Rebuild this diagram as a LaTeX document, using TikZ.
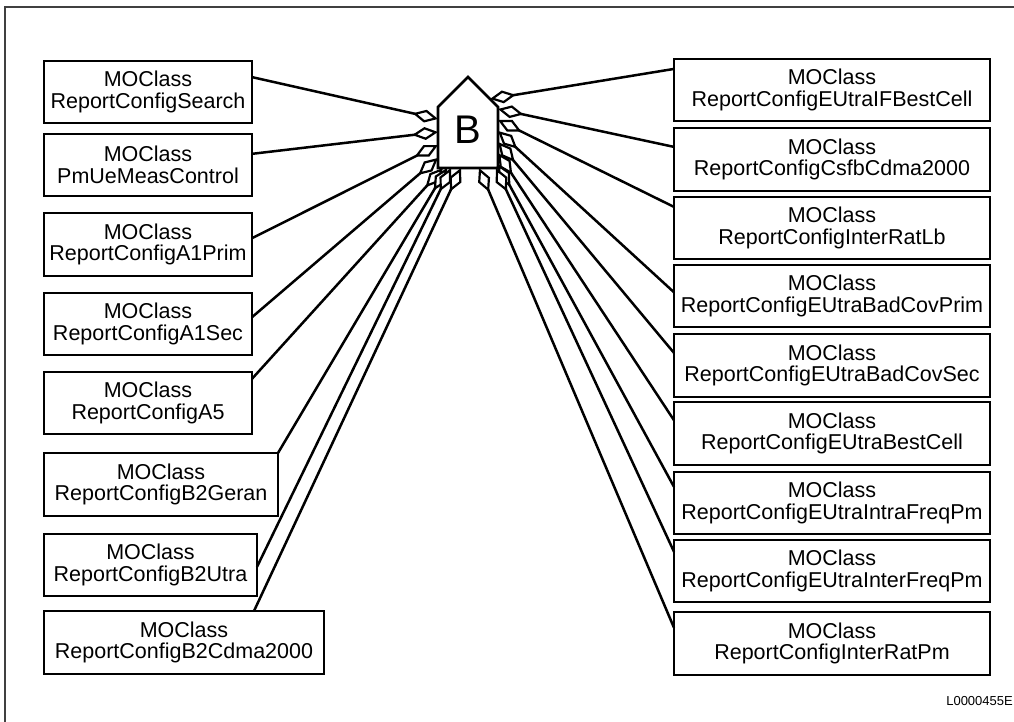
\documentclass[tikz,border=0pt]{standalone}
\usepackage{fontspec}
\setmainfont{Liberation Sans}
\usetikzlibrary{arrows.meta,calc}
\tikzset{
  mobox/.style={draw, line width=2.6pt, inner sep=0pt, outer sep=0pt, align=center,
    font=\fontsize{21.5}{21.5}\selectfont},
  agg/.style={line width=2.5pt, -{Diamond[fill=white, length=26pt, width=13pt, line width=2.2pt]}},
  frame/.style={line width=1.5pt, draw=black!75}
}
\begin{document}
\begin{tikzpicture}[x=1pt, y=-1pt]
\useasboundingbox (0,0) rectangle (1014,722);
\draw[frame] (5,722) -- (5,7) -- (1014,7);

% left boxes
\node[mobox, minimum width=208pt, minimum height=62pt] (s1) at (148,92) {MOClass\\ReportConfigSearch};
\node[mobox, minimum width=208pt, minimum height=62pt] (s2) at (148,165) {MOClass\\PmUeMeasControl};
\node[mobox, minimum width=208pt, minimum height=63pt] (s3) at (148,244.5) {MOClass\\ReportConfigA1Prim};
\node[mobox, minimum width=208pt, minimum height=62pt] (s4) at (148,324) {MOClass\\ReportConfigA1Sec};
\node[mobox, minimum width=208pt, minimum height=62pt] (s5) at (148,403) {MOClass\\ReportConfigA5};
\node[mobox, minimum width=234pt, minimum height=63pt] (s6) at (161,484.5) {MOClass\\ReportConfigB2Geran};
\node[mobox, minimum width=213pt, minimum height=62pt] (s7) at (150.5,565) {MOClass\\ReportConfigB2Utra};
\node[mobox, minimum width=280pt, minimum height=63pt] (s8) at (184,642.5) {MOClass\\ReportConfigB2Cdma2000};

% right boxes
\node[mobox, minimum width=316pt, minimum height=62pt] (r1) at (832,90) {MOClass\\ReportConfigEUtraIFBestCell};
\node[mobox, minimum width=316pt, minimum height=63pt] (r2) at (832,159.5) {MOClass\\ReportConfigCsfbCdma2000};
\node[mobox, minimum width=316pt, minimum height=62pt] (r3) at (832,228) {MOClass\\ReportConfigInterRatLb};
\node[mobox, minimum width=316pt, minimum height=62pt] (r4) at (832,296) {MOClass\\ReportConfigEUtraBadCovPrim};
\node[mobox, minimum width=316pt, minimum height=63pt] (r5) at (832,365.5) {MOClass\\ReportConfigEUtraBadCovSec};
\node[mobox, minimum width=316pt, minimum height=63pt] (r6) at (832,433.5) {MOClass\\ReportConfigEUtraBestCell};
\node[mobox, minimum width=316pt, minimum height=62pt] (r7) at (832,503) {MOClass\\ReportConfigEUtraIntraFreqPm};
\node[mobox, minimum width=316pt, minimum height=62pt] (r8) at (832,571) {MOClass\\ReportConfigEUtraInterFreqPm};
\node[mobox, minimum width=316pt, minimum height=63pt] (r9) at (832,643.5) {MOClass\\ReportConfigInterRatPm};

% house B
\coordinate (hnw) at (438,107);
\coordinate (hap) at (468,77);
\coordinate (hne) at (498,107);
\coordinate (hse) at (498,168);
\coordinate (hsw) at (438,168);
\draw[line width=2.6pt, fill=white, line join=miter] (hnw) -- (hap) -- (hne) -- (hse) -- (hsw) -- cycle;
\node[font=\fontsize{40}{40}\selectfont, inner sep=0pt] (B) at (468,130) {B};

% attach points on B
\coordinate (hL1) at (438,119);
\coordinate (hL2) at (438,132);
\coordinate (hL3) at (438,145);
\coordinate (hL4) at (438,158);
\coordinate (hB5) at (443,168);
\coordinate (hB6) at (447,168);
\coordinate (hB7) at (451,168);
\coordinate (hB8) at (461,168);
\coordinate (hR1) at (490,99);
\coordinate (hR2) at (498,109);
\coordinate (hR3) at (498,120);
\coordinate (hR4) at (498,131);
\coordinate (hR5) at (498,142);
\coordinate (hR6) at (498,153);
\coordinate (hR7) at (498,164);
\coordinate (hR8) at (496,168);
\coordinate (hR9) at (479,168);

% left connectors
\draw[agg] ($(s1.north east)!0.26!(s1.south east)$) -- (hL1);
\draw[agg] ($(s2.north east)!0.32!(s2.south east)$) -- (hL2);
\draw[agg] ($(s3.north east)!0.40!(s3.south east)$) -- (hL3);
\draw[agg] ($(s4.north east)!0.39!(s4.south east)$) -- (hL4);
\draw[agg] ($(s5.north east)!0.11!(s5.south east)$) -- (hB5);
\draw[agg] (s6.north east) -- (hB6);
\draw[agg] ($(s7.north east)!0.53!(s7.south east)$) -- (hB7);
\draw[agg] ($(s8.north west)!0.75!(s8.north east)$) -- (hB8);

% right connectors
\draw[agg] ($(r1.north west)!0.16!(r1.south west)$) -- (hR1);
\draw[agg] ($(r2.north west)!0.30!(r2.south west)$) -- (hR2);
\draw[agg] ($(r3.north west)!0.16!(r3.south west)$) -- (hR3);
\draw[agg] ($(r4.north west)!0.44!(r4.south west)$) -- (hR4);
\draw[agg] ($(r5.north west)!0.30!(r5.south west)$) -- (hR5);
\draw[agg] ($(r6.north west)!0.29!(r6.south west)$) -- (hR6);
\draw[agg] ($(r7.north west)!0.24!(r7.south west)$) -- (hR7);
\draw[agg] ($(r8.north west)!0.19!(r8.south west)$) -- (hR8);
\draw[agg] ($(r9.north west)!0.25!(r9.south west)$) -- (hR9);

\node[anchor=base east, inner sep=0pt, font=\fontsize{13}{13}\selectfont] (lbl) at (1013,705) {L0000455E};
\end{tikzpicture}
\end{document}
